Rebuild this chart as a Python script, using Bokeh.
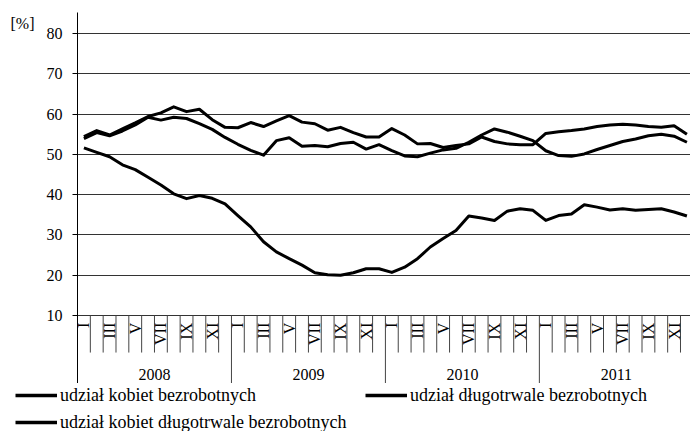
import math
from bokeh.plotting import figure
from bokeh.layouts import column, row
from bokeh.models import Range1d, FixedTicker, Legend, LegendItem
from bokeh.embed import file_html
from bokeh.resources import INLINE
from bokeh.core.properties import value

# ---- data (monthly, Jan 2008 .. Dec 2011) ----
years = ["2008", "2009", "2010", "2011"]
month_labels = ["I", "III", "V", "VII", "IX", "XI"]
y_ticks = [10, 20, 30, 40, 50, 60, 70, 80]
unit_label = "[%]"

udzial_kobiet = [53.9, 55.4, 54.6, 55.8, 57.3, 59.2, 58.5, 59.2, 58.9, 57.6, 56.2, 54.2,
                 52.5, 51.0, 49.8, 53.4, 54.1, 52.0, 52.2, 51.9, 52.7, 53.0, 51.3, 52.4,
                 50.9, 49.6, 49.4, 50.3, 51.1, 51.5, 53.0, 54.8, 56.3, 55.5, 54.5, 53.4,
                 50.9, 49.7, 49.5, 50.1, 51.2, 52.2, 53.2, 53.8, 54.6, 55.0, 54.5, 53.0]

udzial_dlugotrwale = [51.6, 50.5, 49.4, 47.4, 46.2, 44.3, 42.4, 40.2, 39.0, 39.8, 39.1, 37.7,
                      34.8, 32.0, 28.3, 25.8, 24.1, 22.5, 20.6, 20.1, 20.0, 20.6, 21.6, 21.6,
                      20.7, 22.0, 24.1, 27.0, 29.1, 31.1, 34.7, 34.2, 33.6, 35.9, 36.5, 36.1,
                      33.6, 34.8, 35.2, 37.5, 36.9, 36.2, 36.5, 36.1, 36.3, 36.5, 35.7, 34.7]

udzial_kobiet_dlugotrwale = [54.4, 55.9, 54.8, 56.3, 57.8, 59.4, 60.3, 61.8, 60.6, 61.2, 58.6, 56.7,
                             56.6, 57.9, 56.9, 58.3, 59.6, 58.0, 57.6, 56.0, 56.7, 55.4, 54.3, 54.3,
                             56.4, 54.8, 52.6, 52.7, 51.7, 52.2, 52.6, 54.3, 53.2, 52.6, 52.4, 52.4,
                             55.2, 55.6, 55.9, 56.3, 56.9, 57.3, 57.5, 57.3, 56.9, 56.7, 57.1, 55.0]

series_names = ["udział kobiet bezrobotnych",
                "udział długotrwale bezrobotnych",
                "udział kobiet długotrwale bezrobotnych"]
series_values = [udzial_kobiet, udzial_dlugotrwale, udzial_kobiet_dlugotrwale]

months = list(range(len(udzial_kobiet)))

SERIF = "Liberation Serif"
LINE_W = 3

# layout constants (data units of the category band below the 10% line)
Y_LABEL_TOP = 8.2
Y_SHORT_TICK = 0.8
Y_YEAR = -4.75
Y_BOTTOM = -6.88
Y_TOP = 85.21
Y_UNIT = 84.7
MAIN_H = 383

# ---------- small panel holding the unit label (frame aligned with the main chart) ----------
pu = figure(width=40, height=MAIN_H, output_backend="svg", toolbar_location=None, title=None,
            x_axis_location=None, y_axis_location=None,
            x_range=Range1d(0, 40), y_range=Range1d(Y_BOTTOM, Y_TOP),
            min_border=0)
pu.outline_line_color = None
pu.grid.visible = False
pu.text(x=[10], y=[Y_UNIT], text=[unit_label], text_align="left", text_baseline="top",
        text_font=value(SERIF), text_font_size="16px", text_color="black")

# ---------- main chart ----------
p = figure(width=650, height=MAIN_H, output_backend="svg", toolbar_location=None,
           x_axis_location=None,
           x_range=Range1d(-0.5, 47.28), y_range=Range1d(Y_BOTTOM, Y_TOP),
           min_border_left=37, min_border_right=0, min_border_top=12, min_border_bottom=0)
p.outline_line_color = None
p.background_fill_color = "white"
p.border_fill_color = "white"

yax = p.yaxis[0]
yax.ticker = FixedTicker(ticks=y_ticks)
yax.minor_tick_line_color = None
yax.major_tick_out = 5
yax.major_tick_in = 0
yax.major_label_standoff = 10
yax.axis_line_color = "black"
yax.major_tick_line_color = "black"
yax.major_label_text_font = SERIF
yax.major_label_text_font_size = "16px"
yax.major_label_text_color = "black"

p.xgrid.visible = False
p.ygrid.ticker = FixedTicker(ticks=y_ticks)
p.ygrid.grid_line_color = "#333333"
p.ygrid.grid_line_width = 1

# category band: tick lines at month boundaries, longer at year boundaries
short_x, long_x = [], []
for m in months[:-1]:
    b = m + 0.5
    if (m + 1) % 12 == 0:
        long_x.append(b)
    else:
        short_x.append(b)
p.segment(x0=short_x, x1=short_x, y0=[y_ticks[0]] * len(short_x), y1=[Y_SHORT_TICK] * len(short_x),
          line_color="#444444", line_width=1)
p.segment(x0=long_x, x1=long_x, y0=[y_ticks[0]] * len(long_x), y1=[Y_BOTTOM] * len(long_x),
          line_color="#444444", line_width=1)

# month labels (every second month), rotated
mx, mt = [], []
for yi, _ in enumerate(years):
    for j, lbl in enumerate(month_labels):
        mx.append(12 * yi + 2 * j)
        mt.append(lbl)
p.text(x=mx, y=[Y_LABEL_TOP] * len(mx), text=mt, angle=math.pi / 2,
       text_align="right", text_baseline="middle",
       text_font=value(SERIF), text_font_size="16px", text_color="black")

# year labels
yx = [12 * i + 5.5 for i in range(len(years))]
p.text(x=yx, y=[Y_YEAR] * len(yx), text=years, text_align="center", text_baseline="middle",
       text_font=value(SERIF), text_font_size="16px", text_color="black")

# series
for ys in series_values:
    p.line(months, ys, line_color="black", line_width=LINE_W, line_join="round")

# ---------- legend strip (series redrawn out of view, used only for legend glyphs) ----------
LEG_H = 431 - MAIN_H
pl = figure(width=690, height=LEG_H, output_backend="svg", toolbar_location=None, title=None,
            x_axis_location=None, y_axis_location=None,
            x_range=Range1d(0, 1), y_range=Range1d(-101, -100), min_border=0)
pl.outline_line_color = None
pl.grid.visible = False
proxies = [pl.line(months, ys, line_color="black", line_width=LINE_W + 0.5) for ys in series_values]
legend = Legend(items=[LegendItem(label=n, renderers=[r]) for n, r in zip(series_names, proxies)],
                orientation="horizontal", ncols=2, location=(15, -2),
                glyph_width=42, glyph_height=22, label_height=22, label_width=300,
                label_standoff=3, spacing=5, padding=0, margin=0,
                border_line_color=None, background_fill_alpha=0,
                label_text_font=SERIF, label_text_font_size="18px", label_text_color="black")
pl.add_layout(legend, "center")

layout = column(row(pu, p), pl)
open("out.html", "w").write(file_html(layout, INLINE))
